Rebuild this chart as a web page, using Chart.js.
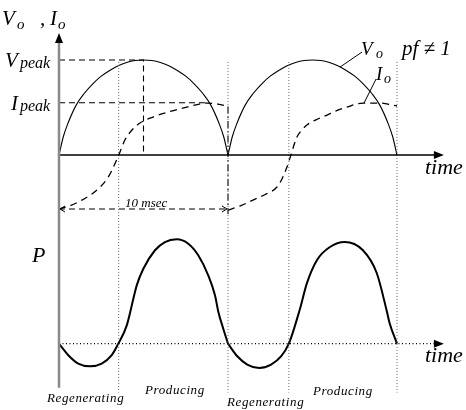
<!DOCTYPE html>
<html>
<head>
<meta charset="utf-8">
<script src="https://cdn.jsdelivr.net/npm/chart.js@4"></script>
<style>
html, body { margin: 0; padding: 0; background: #fff; }
#wrap { width: 466px; height: 410px; position: relative; }
</style>
</head>
<body>
<div id="wrap"><canvas id="myChart"></canvas></div>
<script>
// time in msec, one half cycle of the rectified voltage = 10 msec
// V and I are in units of Vpeak, P in units of its own peak

const vTime = [0, 0.25, 0.5, 1, 1.5, 2, 2.5, 3, 3.5, 4, 4.5, 5, 5.5, 6, 6.5, 7, 7.5, 8, 8.5, 9, 9.5, 9.75, 10];
const vHalf = [0, 0.19, 0.32, 0.52, 0.65, 0.75, 0.83, 0.89, 0.94, 0.975, 0.995, 1, 0.995, 0.975, 0.94, 0.89, 0.83, 0.75, 0.65, 0.52, 0.32, 0.19, 0];

const iTime1 = [0, 0.7, 1.36, 1.9, 2.43, 2.85, 3.14, 3.61, 3.9, 4.32, 4.79, 5.56, 6.5, 7.57, 8.76, 9.4, 10];
const iVal1  = [-0.57, -0.53, -0.474, -0.415, -0.337, -0.25, -0.158, 0.032, 0.158, 0.263, 0.337, 0.4, 0.455, 0.505, 0.547, 0.537, 0.51];
const iTime2 = [10, 10.8, 11.48, 12.2, 12.9, 13.2, 13.49, 14.08, 14.35, 14.67, 15.2, 15.86, 16.4, 17.04, 17.99, 19.0, 20];
const iVal2  = [-0.58, -0.53, -0.474, -0.415, -0.337, -0.25, -0.126, 0.189, 0.26, 0.316, 0.37, 0.421, 0.465, 0.505, 0.547, 0.547, 0.516];

const pTime1 = [0, 0.55, 1.14, 1.83, 2.53, 3.12, 3.51, 4.01, 4.40, 4.60, 4.99, 5.68, 6.27, 6.96, 7.65, 8.24, 8.83, 9.23, 9.43, 9.72, 10];
const pVal1  = [0, -0.11, -0.19, -0.216, -0.19, -0.11, 0, 0.176, 0.431, 0.559, 0.718, 0.895, 0.974, 1, 0.958, 0.847, 0.655, 0.464, 0.304, 0.144, 0];
const pTime2 = [10, 10.55, 11.14, 11.85, 12.55, 13.15, 13.6, 14.24, 14.67, 15.26, 16.03, 16.9, 17.97, 18.8, 19.38, 19.56, 20];
const pVal2  = [0, -0.12, -0.2, -0.233, -0.2, -0.12, 0, 0.323, 0.58, 0.8, 0.926, 0.974, 0.897, 0.677, 0.323, 0.198, 0];

const vPeak = 1;
const iPeak = 0.55;
const iLow = -0.568;          // level of the "10 msec" marker
const boundaries = [3.53, 10, 13.6, 20];   // dotted lines between regenerating / producing
const regionLabels = ['Regenerating', 'Producing', 'Regenerating', 'Producing'];

const pts = (xs, ys, dx) => xs.map((t, k) => ({ x: t + (dx || 0), y: ys[k] }));
const seg = (x0, y0, x1, y1) => [{ x: x0, y: y0 }, { x: x1, y: y1 }];

const datasets = [];
function add(data, o) {
  datasets.push(Object.assign({
    data: data, yAxisID: 'yv', borderColor: '#000', borderWidth: 1,
    pointRadius: 0, fill: false, tension: 0, clip: false
  }, o));
}

// axes
add(seg(0, -2.45, 0, 1.2), { borderColor: '#8a8a8a', borderWidth: 2.5 });
add(seg(0, 0, 22.3, 0), { borderWidth: 1.6 });
add(seg(0, 0, 22.3, 0), { yAxisID: 'yp', borderDash: [1, 2.5], borderWidth: 1.2 });

// dotted boundaries
boundaries.forEach(b => add(seg(b, 0.98, b, -2.5), { borderColor: '#666', borderDash: [1, 2], borderWidth: 1 }));

// guides
add([{ x: 0, y: vPeak }, { x: 5, y: vPeak }, { x: 5, y: 0 }], { borderDash: [6, 4], borderWidth: 1.1 });
add(seg(0, iPeak, 8.9, iPeak), { borderDash: [6, 4], borderWidth: 1.1 });
add(seg(0, iLow, 10, iLow), { borderDash: [6, 4], borderWidth: 1.1 });
add(seg(10, 0.51, 10, -0.62), { borderDash: [7, 3, 1.5, 3], borderWidth: 1.1 });

// leaders
add(seg(17.93, 1.084, 16.63, 0.926), { borderWidth: 1 });
add(seg(18.76, 0.8, 18.05, 0.547), { borderWidth: 1 });

// Vo
add(pts(vTime, vHalf), { cubicInterpolationMode: 'monotone', borderWidth: 1.1 });
add(pts(vTime, vHalf, 10), { cubicInterpolationMode: 'monotone', borderWidth: 1.1 });
// Io
add(pts(iTime1, iVal1), { cubicInterpolationMode: 'monotone', borderDash: [7, 5], borderWidth: 1.3 });
add(pts(iTime2, iVal2), { cubicInterpolationMode: 'monotone', borderDash: [7, 5], borderWidth: 1.3 });
// P
add(pts(pTime1, pVal1), { yAxisID: 'yp', cubicInterpolationMode: 'monotone', borderWidth: 2 });
add(pts(pTime2, pVal2), { yAxisID: 'yp', cubicInterpolationMode: 'monotone', borderWidth: 2 });

const SERIF = '"Liberation Serif", "DejaVu Serif", serif';

const labelsPlugin = {
  id: 'labels',
  afterDraw(chart) {
    const c = chart.ctx;
    const xs = chart.scales.x, yv = chart.scales.yv, yp = chart.scales.yp;
    const X = v => xs.getPixelForValue(v);
    c.save();
    c.fillStyle = '#000';
    c.strokeStyle = '#000';

    // arrow heads
    const x0 = X(0);
    c.beginPath(); c.moveTo(x0, 33); c.lineTo(x0 - 4, 43); c.lineTo(x0 + 4, 43); c.closePath(); c.fill();
    [yv.getPixelForValue(0), yp.getPixelForValue(0)].forEach(y => {
      const xt = X(22.3) + 8;
      c.beginPath(); c.moveTo(xt, y); c.lineTo(xt - 10, y - 4); c.lineTo(xt - 10, y + 4); c.closePath(); c.fill();
    });
    const yl = yv.getPixelForValue(iLow);
    c.lineWidth = 1;
    c.beginPath();
    c.moveTo(x0 + 6, yl - 3); c.lineTo(x0 + 1, yl); c.lineTo(x0 + 6, yl + 3);
    c.moveTo(X(10) - 6, yl - 3); c.lineTo(X(10) - 1, yl); c.lineTo(X(10) - 6, yl + 3);
    c.stroke();

    const txt = (s, x, y, size) => { c.font = 'italic ' + size + 'px ' + SERIF; c.fillText(s, x, y); return c.measureText(s).width; };

    // V_o , I_o
    txt('V', 2, 25, 21); txt('o', 17, 29, 15); txt(',', 40, 25, 21); txt('I', 50, 25, 21); txt('o', 58, 29, 15);
    // V_peak, I_peak
    txt('V', 5, 67, 21); txt('peak', 20, 68, 16);
    txt('I', 11, 110, 21); txt('peak', 20, 111, 16);
    // V_o pf != 1
    txt('V', 361, 55, 19); txt('o', 376, 58, 14);
    txt('pf \u2260 1', 402, 55, 21);
    // I_o
    txt('I', 376, 80, 19); txt('o', 384, 83, 14);
    // time
    txt('time', 425, 174, 22);
    txt('time', 425, 362, 22);
    // 10 msec
    txt('10 msec', 125, 207, 13);
    // P
    txt('P', 32, 262, 22);
    // regions
    c.letterSpacing = '0.6px';
    txt(regionLabels[0], 47, 402, 13);
    txt(regionLabels[1], 145, 394, 13);
    txt(regionLabels[2], 227, 406, 13);
    txt(regionLabels[3], 313, 395, 13);
    c.restore();
  }
};

new Chart(document.getElementById('myChart'), {
  type: 'line',
  data: { datasets: datasets },
  options: {
    responsive: true,
    maintainAspectRatio: false,
    animation: false,
    layout: { padding: 0 },
    plugins: { legend: { display: false }, tooltip: { enabled: false } },
    scales: {
      x: { type: 'linear', min: -3.491, max: 24.083, display: false },
      yv: { type: 'linear', min: -2.684, max: 1.632, display: false },
      yp: { type: 'linear', min: -0.635, max: 3.292, display: false }
    }
  },
  plugins: [labelsPlugin]
});
</script>
</body>
</html>
